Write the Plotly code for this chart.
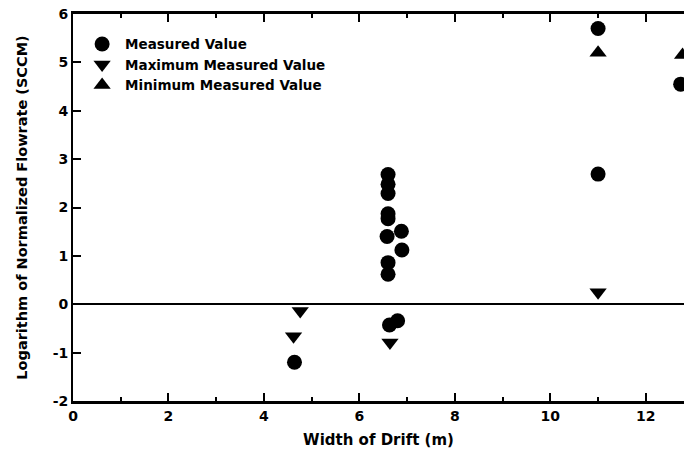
import plotly.graph_objects as go

# Drift width (m) and log10 of normalized flowrate (SCCM)
measured_x = [4.64, 6.60, 6.60, 6.60, 6.60, 6.60, 6.58, 6.88, 6.89, 6.60, 6.60, 6.63, 6.80, 11.0, 11.0, 12.73]
measured_y = [-1.20, 2.68, 2.48, 2.29, 1.87, 1.77, 1.40, 1.51, 1.12, 0.86, 0.62, -0.43, -0.34, 5.70, 2.69, 4.55]

max_x = [4.76, 4.62, 6.64, 11.0]
max_y = [-0.14, -0.66, -0.79, 0.25]

min_x = [11.0, 12.77]
min_y = [5.20, 5.15]

x_ticks = [0, 2, 4, 6, 8, 10, 12]
y_ticks = [-2, -1, 0, 1, 2, 3, 4, 5, 6]

FONT = "DejaVu Sans"

fig = go.Figure()
fig.add_trace(go.Scatter(
    x=measured_x, y=measured_y, mode="markers", name="Measured Value",
    marker=dict(symbol="circle", size=15, color="black"),
))
fig.add_trace(go.Scatter(
    x=max_x, y=max_y, mode="markers", name="Maximum Measured Value",
    marker=dict(symbol="triangle-down", size=15, color="black"),
))
fig.add_trace(go.Scatter(
    x=min_x, y=min_y, mode="markers", name="Minimum Measured Value",
    marker=dict(symbol="triangle-up", size=15, color="black"),
))

fig.update_layout(
    width=684, height=456,
    margin=dict(l=73, r=0, t=14, b=55),
    paper_bgcolor="white", plot_bgcolor="white",
    font=dict(family=FONT, color="black", weight="bold"),
    showlegend=True,
    legend=dict(
        x=0.01, y=0.962, xanchor="left", yanchor="top",
        bgcolor="rgba(0,0,0,0)", borderwidth=0,
        font=dict(family=FONT, size=13.5, color="black", weight="bold"),
        tracegroupgap=0, itemsizing="trace", itemwidth=36,
    ),
)

fig.update_xaxes(
    range=[0, 12.8], tickmode="array", tickvals=x_ticks,
    ticktext=[str(v) for v in x_ticks],
    showgrid=False, zeroline=False,
    showline=True, linecolor="black", linewidth=3, mirror="ticks",
    ticks="inside", ticklen=8, tickwidth=1.5, tickcolor="black",
    minor=dict(dtick=1, tick0=0, ticks="inside", ticklen=4, tickwidth=1.5, tickcolor="black", showgrid=False),
    tickfont=dict(family=FONT, size=14, color="black", weight="bold"),
    title=dict(text="Width of Drift (m)", standoff=12,
               font=dict(family=FONT, size=15, color="black", weight="bold")),
)
fig.update_yaxes(
    range=[-2, 6], tickmode="array", tickvals=y_ticks,
    ticktext=[str(v) for v in y_ticks],
    showgrid=False,
    zeroline=True, zerolinecolor="black", zerolinewidth=1.5,
    showline=True, linecolor="black", linewidth=2,
    ticks="inside", ticklen=8, tickwidth=1.5, tickcolor="black",
    tickfont=dict(family=FONT, size=14, color="black", weight="bold"),
    title=dict(text="Logarithm of Normalized Flowrate (SCCM)", standoff=22,
               font=dict(family=FONT, size=14.5, color="black", weight="bold")),
)

fig.write_html("out.html")
